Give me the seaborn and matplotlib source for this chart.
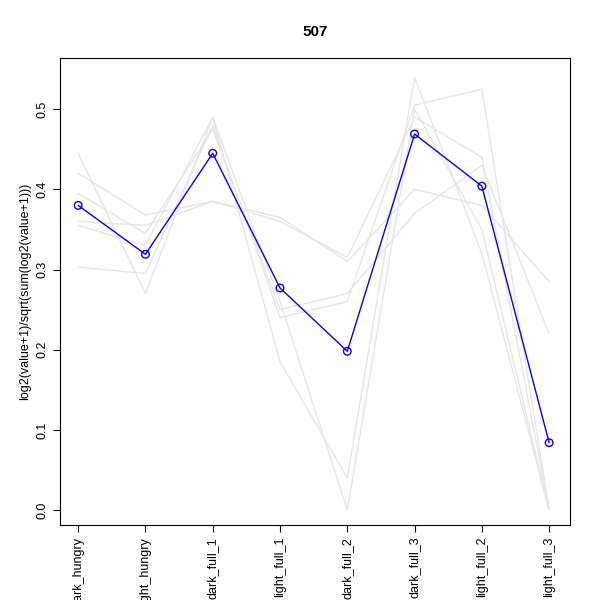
import matplotlib
matplotlib.use("Agg")
import matplotlib.pyplot as plt
import seaborn as sns
import pandas as pd

categories = ["dark_hungry", "light_hungry", "dark_full_1", "light_full_1",
              "dark_full_2", "dark_full_3", "light_full_2", "light_full_3"]
highlight = [0.380, 0.319, 0.445, 0.277, 0.198, 0.469, 0.404, 0.084]
others = [
    [0.445, 0.270, 0.490, 0.185, 0.040, 0.540, 0.320, 0.000],
    [0.420, 0.368, 0.385, 0.365, 0.310, 0.400, 0.380, 0.285],
    [0.360, 0.355, 0.385, 0.360, 0.315, 0.490, 0.440, 0.000],
    [0.303, 0.295, 0.480, 0.240, 0.260, 0.505, 0.525, 0.000],
    [0.395, 0.345, 0.475, 0.250, 0.270, 0.370, 0.430, 0.220],
    [0.355, 0.330, 0.490, 0.260, 0.000, 0.500, 0.350, 0.000],
]

sns.set_style("white")
plt.rcParams["font.family"] = ["Liberation Sans", "DejaVu Sans"]
plt.rcParams["text.color"] = "black"
plt.rcParams["axes.labelcolor"] = "black"
plt.rcParams["xtick.color"] = "black"
plt.rcParams["ytick.color"] = "black"
fig = plt.figure(figsize=(6, 6), dpi=100)
ax = fig.add_axes([0.1, 0.125, 0.85, 0.778])
x = list(range(len(categories)))
for i, o in enumerate(others):
    df = pd.DataFrame({"x": x, "y": o})
    sns.lineplot(data=df, x="x", y="y", color="#e6e6e6", lw=1, ax=ax)
dfh = pd.DataFrame({"x": x, "y": highlight})
sns.lineplot(data=dfh, x="x", y="y", color="blue", lw=1, ax=ax)
ax.scatter(x, highlight, s=30, facecolors="none", edgecolors="blue", linewidths=1, zorder=5)
ax.set_xlim(-0.27, 7.31)
ax.set_ylim(-0.0187, 0.5636)
ax.set_xticks(x)
ax.set_xticklabels(categories, rotation=90, fontsize=9)
ax.set_yticks([0, 0.1, 0.2, 0.3, 0.4, 0.5])
ax.set_yticklabels(["0.0", "0.1", "0.2", "0.3", "0.4", "0.5"], rotation=90, va="center", fontsize=9)
ax.tick_params(axis="both", length=5, width=0.8, left=True, bottom=True, direction="out")
for s in ax.spines.values():
    s.set_color("black"); s.set_linewidth(0.8)
ax.set_xlabel("")
ax.set_ylabel("log2(value+1)/sqrt(sum(log2(value+1)))", fontsize=9)
ax.set_title("507", fontsize=11, fontweight="bold", pad=16)
fig.savefig("out.png", dpi=100)
